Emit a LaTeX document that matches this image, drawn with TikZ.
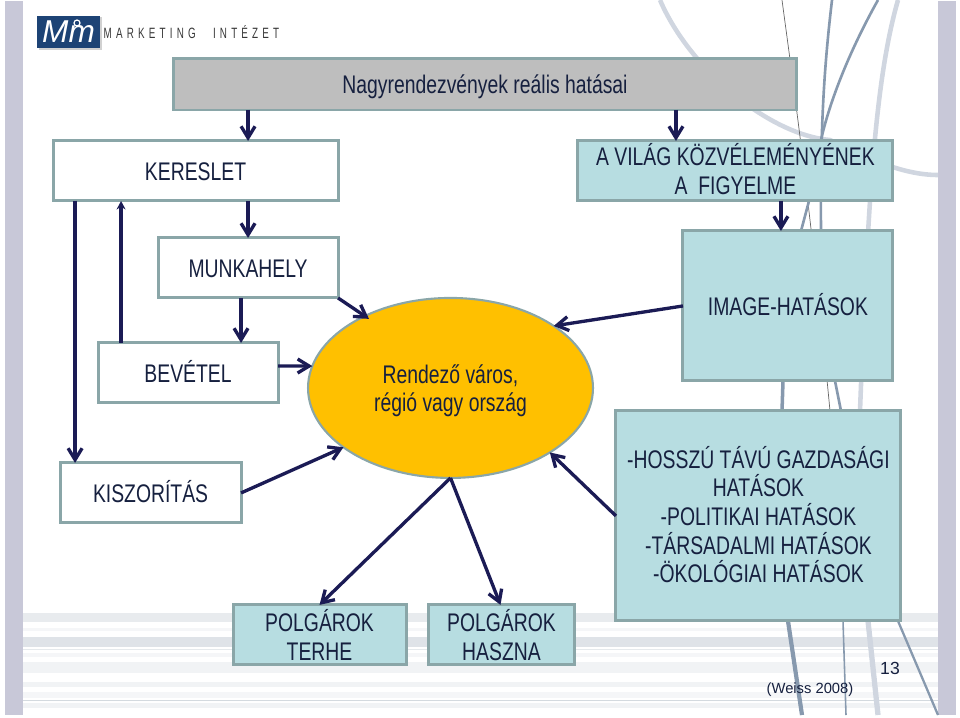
\documentclass[tikz,border=0pt]{standalone}
\usepackage{fontspec}
\setmainfont[FakeStretch=0.76]{Liberation Sans}
\newfontfamily\plainfont{Liberation Sans}
\newfontfamily\logofont[FakeStretch=0.66,LetterSpace=28,WordSpace=2.5]{Liberation Sans}
\usepackage{xcolor}
\usetikzlibrary{positioning,arrows.meta,shapes.geometric}
\definecolor{cEdge}{HTML}{8AA6A8}
\definecolor{cCyan}{HTML}{B7DDE1}
\definecolor{cGrayBox}{HTML}{BEBEBE}
\definecolor{cSun}{HTML}{FFC000}
\definecolor{cArrow}{HTML}{1B1B55}
\definecolor{cText}{HTML}{16203F}
\definecolor{cBar}{HTML}{C8C8D8}
\definecolor{cLogo}{HTML}{1D4375}
\definecolor{cSwoop}{HTML}{8799AE}
\definecolor{cSwoopL}{HTML}{D0D6E0}
\definecolor{cStripe}{HTML}{6F8296}
\tikzset{
  >={Straight Barb[length=2.3mm,width=2.8mm,line width=1.9pt]},
  sbox/.style={draw=cEdge,line width=1.7pt,align=center,inner sep=0pt,outer sep=0pt,
               text=cText,font=\fontsize{14.5}{16.3}\selectfont},
  swht/.style={sbox,fill=white},
  scya/.style={sbox,fill=cCyan},
  sgry/.style={sbox,fill=cGrayBox},
  sone/.style={text height=10.4pt,text depth=0pt},
  sar/.style ={->,line width=1.9pt,cArrow},
  sswp/.style={cSwoop,line width=1.5pt},
  sswl/.style={cSwoopL,line width=2.6pt},
}
\begin{document}
\begin{tikzpicture}[x=0.02cm,y=-0.02cm]
        \useasboundingbox (0,0) rectangle (960,717);
        \fill[cBar] (5,1) rectangle (23,715);
        \fill[cBar] (938,1) rectangle (956,715);
        \fill[cStripe!16] (23,613) rectangle (938,622);
        \fill[cStripe!7]  (23,628) rectangle (938,631);
        \fill[cStripe!22] (23,637) rectangle (938,647);
        \fill[cStripe!18] (23,649) rectangle (938,650);
        \fill[cStripe!7]  (23,653) rectangle (938,657);
        \fill[cStripe!10] (23,662) rectangle (938,673);
        \fill[cStripe!10] (23,682) rectangle (938,687);
        \fill[cStripe!7]  (23,692) rectangle (938,698);
        \fill[cStripe!30] (23,700) rectangle (938,701);
        \fill[cStripe!10] (23,703) rectangle (938,708);
        \draw[sswl] (660,0) .. controls (690,70) and (770,135) .. (830,140) .. controls (870,160) and (905,175) .. (938,175);
        \draw[sswl] (898,0) .. controls (875,80) and (868,200) .. (860,411);
        \draw[black!60,line width=0.4pt] (782,0) .. controls (790,60) and (810,200) .. (830,411);
        \draw[sswp] (832,0) .. controls (825,60) and (820,120) .. (821,231);
        \draw[sswp] (878,0) .. controls (850,50) and (830,100) .. (821,140);
        \draw[sswp] (809,201) -- (801,231);
        \draw[sswp,line width=2pt] (783,381) -- (782,411);
        \draw[sswp] (835,381) -- (841,411);
        \draw[sswp,line width=2.4pt] (788,621) -- (802,715);
        \draw[sswp,line width=0.9pt] (843,621) -- (846,715);
        \draw[sswl,line width=3pt] (868,621) -- (878,715);
        \draw[sswp,line width=1.3pt] (898,621) -- (938,715);
        \fill[black!18] (39,17) rectangle (102,50);
        \node[fill=cLogo,minimum width=1.26cm,minimum height=0.64cm,inner sep=0pt,text=white,
          font=\plainfont\fontsize{18}{18}\selectfont\itshape] (logo) at (68.5,32) {Mm};
        \draw[white,line width=0.7pt] (77,23) circle (3);
        \node[right=0.6mm of logo,yshift=-0.1mm,inner sep=0pt,text=black!78,font=\logofont\fontsize{8.5}{8.5}\selectfont]
          (logotxt) {MARKETING INTÉZET};
        \node[sgry,text depth=0pt,minimum width=12.48cm,minimum height=1.04cm] (nagy) at (485,84)
          {Nagyrendezvények reális hatásai};
        \node[swht,sone,minimum width=5.7cm,minimum height=1.2cm,below left=6.2mm and 29.4mm of nagy.south]
          (kereslet) {KERESLET};
        \node[scya,minimum width=6.3cm,minimum height=1.2cm,below right=6.2mm and 18.6mm of nagy.south]
          (vilag) {A VILÁG KÖZVÉLEMÉNYÉNEK\\A\ \ FIGYELME\rule[-2.4pt]{0pt}{2.4pt}};
        \node[swht,sone,minimum width=3.6cm,minimum height=1.2cm,below left=7.4mm and 0mm of kereslet.south east]
          (munka) {MUNKAHELY};
        \node[scya,sone,minimum width=4.2cm,minimum height=3cm,below left=6mm and 0mm of vilag.south east]
          (image) {IMAGE-HATÁSOK};
        \node[swht,sone,minimum width=3.6cm,minimum height=1.2cm,below=9mm of munka,xshift=-12mm]
          (bevetel) {BEVÉTEL};
        \node[sbox,ellipse,line width=1.2pt,fill=cSun,minimum width=5.7cm,minimum height=3.6cm,right=6mm of bevetel,yshift=-3mm]
          (varos) {\rule{0pt}{14pt}Rendező város,\\régió vagy ország};
        \node[swht,sone,minimum width=3.62cm,minimum height=1.2cm,below=12mm of bevetel,xshift=-7.5mm]
          (kiszor) {KISZORÍTÁS};
        \node[scya,minimum width=5.7cm,minimum height=4.2cm,below=6mm of image,xshift=-5.9mm]
          (hosszu) {-HOSSZÚ TÁVÚ GAZDASÁGI\\HATÁSOK\\-POLITIKAI HATÁSOK\\-TÁRSADALMI HATÁSOK\\-ÖKOLÓGIAI HATÁSOK\rule[-1.6pt]{0pt}{1.6pt}};
        \node[scya,minimum width=3.46cm,minimum height=1.2cm,below=16.4mm of kiszor,xshift=33.8mm]
          (terhe) {POLGÁROK\\TERHE};
        \node[scya,minimum width=2.94cm,minimum height=1.2cm,right=4.4mm of terhe]
          (haszna) {POLGÁROK\\HASZNA};
        \node[text=cText,inner sep=0pt,font=\plainfont\fontsize{8.4}{8.4}\selectfont] (forras) at (810,690) {(Weiss 2008)};
        \node[text=cText,inner sep=0pt,font=\plainfont\fontsize{10}{10}\selectfont] (oldal) at (890,668) {13};
        \draw[sar] (munka.north |- nagy.south)--(munka.north |- kereslet.north);
        \draw[sar] ([xshift=-11.9mm]vilag.north |- nagy.south)--([xshift=-11.9mm]vilag.north);
        \draw[sar] ([xshift=-1.4mm]image.north |- vilag.south)--([xshift=-1.4mm]image.north);
        \draw[sar] (munka.north |- kereslet.south)--(munka.north);
        \draw[sar] ([xshift=-1.4mm]munka.south)--([xshift=-1.4mm]munka.south |- bevetel.north);
        \draw[sar] ([xshift=-15.1mm]kiszor.north |- kereslet.south)--([xshift=-15.1mm]kiszor.north);
        \draw[sar,-{Stealth[length=1.7mm,width=1.8mm]}] ([xshift=-13.4mm]bevetel.north)--([xshift=-13.4mm]bevetel.north |- kereslet.south);
        \draw[sar,shorten >=-1mm] (munka.south east)--(varos.140);
        \draw[sar] (image.west)--(varos.31);
        \draw[sar] ([yshift=1.4mm]bevetel.east)--(varos.171);
        \draw[sar] (kiszor.east)--(varos.209.5);
        \draw[sar] (hosszu.west)--(varos.327.5);
        \draw[sar] (varos.south)--(terhe.north);
        \draw[sar] (varos.south)--([xshift=-0.2mm]haszna.north);
      \end{tikzpicture}
\end{document}
